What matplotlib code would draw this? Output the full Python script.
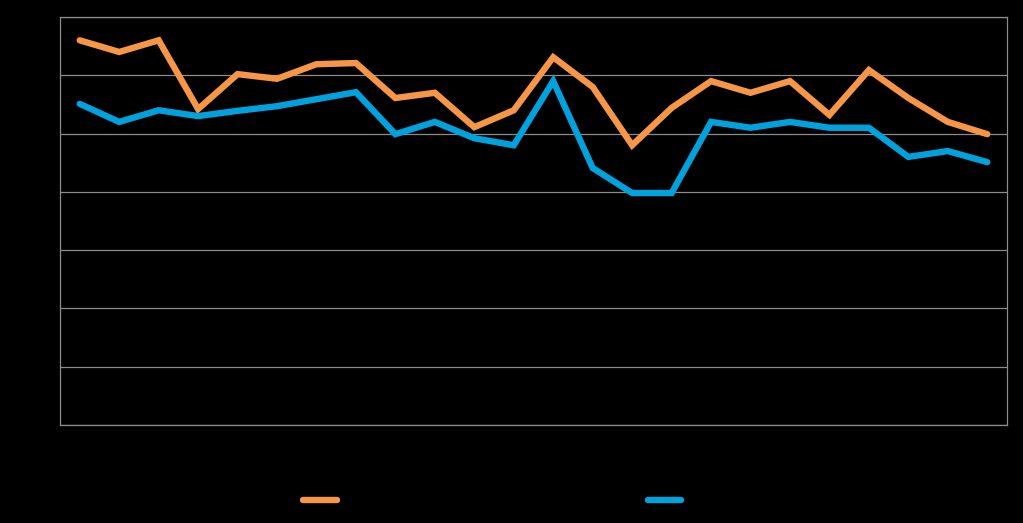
import matplotlib
matplotlib.use("Agg")
import matplotlib.pyplot as plt
import numpy as np

# valeurs (24 points par série)
categories = list(range(1, 25))
serie_orange = [66.0, 64.0, 66.0, 54.2, 60.2, 59.4, 61.9, 62.1, 56.1, 57.0, 51.1, 54.0,
                63.1, 58.0, 48.0, 54.4, 59.0, 57.0, 59.0, 53.2, 60.9, 56.1, 52.0, 49.9]
serie_bleue = [55.1, 52.0, 54.0, 53.0, 53.9, 54.7, 55.9, 57.1, 49.9, 52.0, 49.2, 48.0,
               59.0, 44.1, 39.8, 39.8, 52.0, 51.0, 52.0, 51.0, 51.0, 46.0, 47.0, 45.1]
y_ticks = [0, 10, 20, 30, 40, 50, 60, 70]

fig = plt.figure(figsize=(10.23, 5.23), dpi=100, facecolor='black')
ax = fig.add_axes([60 / 1023, 98 / 523, 947 / 1023, 408 / 523], facecolor='black')

x = np.arange(len(categories))
ax.plot(x, serie_orange, color='#F79646', linewidth=4.6, solid_capstyle='round',
        solid_joinstyle='miter', label='Série 1', zorder=3)
ax.plot(x, serie_bleue, color='#00A2DE', linewidth=4.6, solid_capstyle='round',
        solid_joinstyle='miter', label='Série 2', zorder=3)

ax.set_xlim(-0.5, len(categories) - 0.5)
ax.set_ylim(0, 70)
ax.set_yticks(y_ticks)
ax.set_xticks(x)
ax.set_xticklabels([str(c) for c in categories])
ax.tick_params(colors='black', length=0, labelcolor='black')
ax.grid(axis='y', color='#8C8C8C', linewidth=0.9)
ax.set_axisbelow(True)
for s in ax.spines.values():
    s.set_color('#8C8C8C')
    s.set_linewidth(0.9)

leg = fig.legend(loc='center', bbox_to_anchor=(520 / 1023, 22 / 523), ncol=2,
                 frameon=False, handlelength=2.4, columnspacing=18.4,
                 handletextpad=0.5, fontsize=10)
for t in leg.get_texts():
    t.set_color('black')

fig.savefig('out.png', dpi=100, facecolor='black')
